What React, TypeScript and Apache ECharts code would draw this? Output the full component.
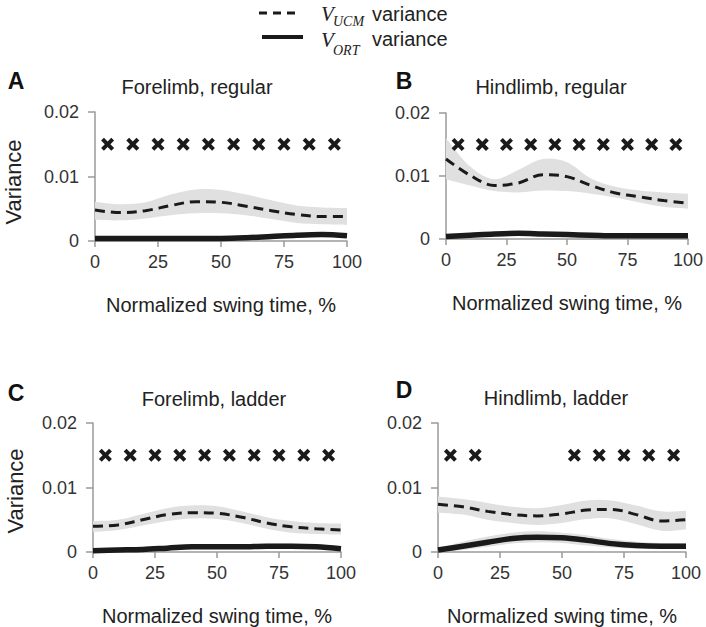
import React, { useEffect, useRef } from 'react';
import * as echarts from 'echarts';

// ---- data ----
const xs = [0, 10, 20, 30, 40, 50, 60, 70, 80, 90, 100];
const xTickInterval = 25;
const crossLevel = 0.015;

const A_ucm = [0.0048, 0.0044, 0.0047, 0.0055, 0.0061, 0.006, 0.0054, 0.0047, 0.0041, 0.0038, 0.0038];
const A_ucmHi = [0.0061, 0.0057, 0.006, 0.0072, 0.008, 0.0079, 0.0072, 0.0063, 0.0055, 0.0052, 0.0051];
const A_ucmLo = [0.0033, 0.0032, 0.0035, 0.004, 0.0043, 0.0043, 0.004, 0.0034, 0.0028, 0.0026, 0.0025];
const A_ort = [0.0004, 0.0004, 0.0004, 0.0004, 0.0004, 0.0004, 0.0005, 0.0007, 0.0009, 0.001, 0.0008];
const A_ortHi = [0.0006, 0.0006, 0.0006, 0.0006, 0.0006, 0.0006, 0.0007, 0.0009, 0.0011, 0.0012, 0.001];
const A_ortLo = [0.0002, 0.0002, 0.0002, 0.0002, 0.0002, 0.0002, 0.0003, 0.0005, 0.0007, 0.0008, 0.0006];
const A_cross = [5, 15, 25, 35, 45, 55, 65, 75, 85, 95];

const B_ucm = [0.0127, 0.0101, 0.0085, 0.0089, 0.0102, 0.0099, 0.0085, 0.0073, 0.0067, 0.0061, 0.0057];
const B_ucmHi = [0.016, 0.0115, 0.0095, 0.011, 0.0127, 0.0122, 0.0096, 0.0083, 0.0077, 0.0074, 0.0072];
const B_ucmLo = [0.0095, 0.0085, 0.0076, 0.0074, 0.0077, 0.0076, 0.0072, 0.0066, 0.0058, 0.0051, 0.0048];
const B_ort = [0.0004, 0.0006, 0.0008, 0.0009, 0.0008, 0.0007, 0.0006, 0.0005, 0.0005, 0.0005, 0.0005];
const B_ortHi = [0.0006, 0.0008, 0.001, 0.0011, 0.001, 0.0009, 0.0008, 0.0007, 0.0007, 0.0007, 0.0007];
const B_ortLo = [0.0002, 0.0004, 0.0006, 0.0007, 0.0006, 0.0005, 0.0004, 0.0003, 0.0003, 0.0003, 0.0003];
const B_cross = [5, 15, 25, 35, 45, 55, 65, 75, 85, 95];

const C_ucm = [0.004, 0.0042, 0.005, 0.0058, 0.0061, 0.006, 0.0054, 0.0045, 0.0039, 0.0036, 0.0034];
const C_ucmHi = [0.0048, 0.005, 0.0059, 0.0068, 0.0072, 0.0071, 0.0063, 0.0054, 0.0048, 0.0045, 0.0044];
const C_ucmLo = [0.0031, 0.0034, 0.0041, 0.0048, 0.0052, 0.0051, 0.0045, 0.0036, 0.003, 0.0028, 0.0027];
const C_ort = [0.0002, 0.0003, 0.0004, 0.0006, 0.0008, 0.0008, 0.0008, 0.0009, 0.0009, 0.0008, 0.0005];
const C_ortHi = [0.0004, 0.0005, 0.0007, 0.001, 0.0012, 0.0012, 0.0012, 0.0013, 0.0013, 0.0011, 0.0008];
const C_ortLo = [0.0, 0.0001, 0.0002, 0.0003, 0.0005, 0.0005, 0.0005, 0.0006, 0.0006, 0.0005, 0.0003];
const C_cross = [5, 15, 25, 35, 45, 55, 65, 75, 85, 95];

const D_ucm = [0.0074, 0.007, 0.0063, 0.0058, 0.0056, 0.0059, 0.0065, 0.0066, 0.0058, 0.0048, 0.005];
const D_ucmHi = [0.0086, 0.0082, 0.0076, 0.007, 0.0068, 0.0073, 0.008, 0.008, 0.0072, 0.0063, 0.0064];
const D_ucmLo = [0.0061, 0.0058, 0.005, 0.0045, 0.0042, 0.0045, 0.0051, 0.0052, 0.0043, 0.0033, 0.0035];
const D_ort = [0.0003, 0.0009, 0.0015, 0.0021, 0.0023, 0.0022, 0.0018, 0.0013, 0.001, 0.0009, 0.0009];
const D_ortHi = [0.0006, 0.0016, 0.0024, 0.003, 0.0032, 0.003, 0.0026, 0.002, 0.0016, 0.0014, 0.0014];
const D_ortLo = [0.0, 0.0003, 0.0008, 0.0013, 0.0015, 0.0014, 0.001, 0.0007, 0.0005, 0.0005, 0.0005];
const D_cross = [5, 15, 55, 65, 75, 85, 95];

const panelTitles = ['Forelimb, regular', 'Hindlimb, regular', 'Forelimb, ladder', 'Hindlimb, ladder'];
const panelLetters = ['A', 'B', 'C', 'D'];
const xAxisName = 'Normalized swing time, %';
const yAxisName = 'Variance';

const panels = [
  { ucm: A_ucm, ucmHi: A_ucmHi, ucmLo: A_ucmLo, ort: A_ort, ortHi: A_ortHi, ortLo: A_ortLo, cross: A_cross },
  { ucm: B_ucm, ucmHi: B_ucmHi, ucmLo: B_ucmLo, ort: B_ort, ortHi: B_ortHi, ortLo: B_ortLo, cross: B_cross },
  { ucm: C_ucm, ucmHi: C_ucmHi, ucmLo: C_ucmLo, ort: C_ort, ortHi: C_ortHi, ortLo: C_ortLo, cross: C_cross },
  { ucm: D_ucm, ucmHi: D_ucmHi, ucmLo: D_ucmLo, ort: D_ort, ortHi: D_ortHi, ortLo: D_ortLo, cross: D_cross },
];

// ---- layout ----
const grids = [
  { left: 95, top: 112, right: 359, bottom: 386 },
  { left: 446, top: 113, right: 12, bottom: 388 },
  { left: 93, top: 423, right: 365, bottom: 75 },
  { left: 438, top: 423, right: 20, bottom: 75 },
];
const titlePos = [[197, 87], [551, 87], [214, 399], [556, 398]];
const letterPos = [[16, 81], [404, 81], [16, 393], [404, 390]];
const yNamePos = [[13, 182], [15, 491]];

const SANS = 'Liberation Sans, Arial, sans-serif';
const SERIF = 'Liberation Serif, Times New Roman, serif';
const INK = '#1a1a1a';
const BAND = '#e0e0e0';
const CROSS = 'path://M0,2.6L2.6,0L6,3.4L9.4,0L12,2.6L8.6,6L12,9.4L9.4,12L6,8.6L2.6,12L0,9.4L3.4,6Z';
const SMOOTH = 0.35;

const pairs = (x: number[], y: number[]) => x.map((v, i) => [v, y[i]]);

// smooth path segment string through pixel points (excluding the initial move)
function smoothSegs(pts: number[][]): string {
  const s = SMOOTH * 0.5;
  let d = '';
  const n = pts.length;
  for (let i = 0; i < n - 1; i++) {
    const p0 = pts[Math.max(0, i - 1)];
    const p1 = pts[i];
    const p2 = pts[i + 1];
    const p3 = pts[Math.min(n - 1, i + 2)];
    const c1 = [p1[0] + (p2[0] - p0[0]) * s, p1[1] + (p2[1] - p0[1]) * s];
    const c2 = [p2[0] - (p3[0] - p1[0]) * s, p2[1] - (p3[1] - p1[1]) * s];
    d += `C${c1[0].toFixed(2)},${c1[1].toFixed(2)} ${c2[0].toFixed(2)},${c2[1].toFixed(2)} ${p2[0].toFixed(2)},${p2[1].toFixed(2)}`;
  }
  return d;
}

function bandSeries(i: number, hi: number[], lo: number[]) {
  return {
    type: 'custom',
    xAxisIndex: i,
    yAxisIndex: i,
    silent: true,
    clip: false,
    z: 1,
    data: [[xs[0], lo[0]]],
    renderItem: (_params: any, api: any) => {
      const top = xs.map((x, k) => api.coord([x, hi[k]]));
      const bottom = xs.map((x, k) => api.coord([x, lo[k]])).reverse();
      const d =
        `M${top[0][0].toFixed(2)},${top[0][1].toFixed(2)}` +
        smoothSegs(top) +
        `L${bottom[0][0].toFixed(2)},${bottom[0][1].toFixed(2)}` +
        smoothSegs(bottom) +
        'Z';
      return {
        type: 'path',
        shape: { pathData: d },
        style: { fill: BAND, stroke: 'none' },
      };
    },
  };
}

export default function App() {
  const ref = useRef<HTMLDivElement>(null);
  useEffect(() => {
    if (!ref.current) return;
    const chart = echarts.init(ref.current, undefined, { renderer: 'svg' });

    const xAxis: any[] = [];
    const yAxis: any[] = [];
    const series: any[] = [];
    panels.forEach((p, i) => {
      xAxis.push({
        type: 'value', gridIndex: i, min: 0, max: 100, interval: xTickInterval,
        axisLine: { lineStyle: { color: '#9a9a9a', width: 1.5 } },
        axisTick: { show: true, length: 6, lineStyle: { color: '#9a9a9a', width: 1.5 } },
        axisLabel: { fontFamily: SANS, fontSize: 18, color: '#333', margin: 12 },
        splitLine: { show: false },
        name: xAxisName, nameLocation: 'middle', nameGap: 54,
        nameTextStyle: { fontFamily: SANS, fontSize: 20, color: '#222' },
      });
      yAxis.push({
        type: 'value', gridIndex: i, min: 0, max: 0.02, interval: 0.01,
        axisLine: { show: true, lineStyle: { color: '#9a9a9a', width: 1.5 } },
        axisTick: { show: true, length: 7, lineStyle: { color: '#9a9a9a', width: 1.5 } },
        axisLabel: { fontFamily: SANS, fontSize: 18, color: '#333', margin: 16 },
        splitLine: { show: false },
      });
      const common = { xAxisIndex: i, yAxisIndex: i, symbol: 'none', smooth: SMOOTH, silent: true };
      series.push(bandSeries(i, p.ucmHi, p.ucmLo));
      series.push(bandSeries(i, p.ortHi, p.ortLo));
      series.push({ ...common, type: 'line', data: pairs(xs, p.ucm), lineStyle: { color: INK, width: 3, type: [10, 6] }, z: 5 });
      series.push({ ...common, type: 'line', data: pairs(xs, p.ort), lineStyle: { color: INK, width: 5.5 }, z: 5 });
      series.push({
        type: 'scatter', xAxisIndex: i, yAxisIndex: i, symbol: CROSS, symbolSize: 13, silent: true,
        itemStyle: { color: INK, opacity: 1 }, data: p.cross.map((x) => [x, crossLevel]), z: 6,
      });
    });

    const graphic: any[] = [];
    panelTitles.forEach((t, i) => {
      graphic.push({ type: 'text', x: titlePos[i][0], y: titlePos[i][1], style: { text: t, font: `20px ${SANS}`, fill: '#222', align: 'center', verticalAlign: 'middle' } });
      graphic.push({ type: 'text', x: letterPos[i][0], y: letterPos[i][1], style: { text: panelLetters[i], font: `bold 23px ${SANS}`, fill: '#111', align: 'center', verticalAlign: 'middle' } });
    });
    yNamePos.forEach((pos) => {
      graphic.push({ type: 'text', x: pos[0], y: pos[1], rotation: Math.PI / 2, style: { text: yAxisName, font: `22px ${SANS}`, fill: '#222', align: 'center', verticalAlign: 'middle' } });
    });
    // legend
    graphic.push({ type: 'line', shape: { x1: 259, y1: 13, x2: 296, y2: 13 }, style: { stroke: INK, lineWidth: 3, lineDash: [8, 6] } });
    graphic.push({ type: 'line', shape: { x1: 262, y1: 37, x2: 303, y2: 37 }, style: { stroke: INK, lineWidth: 4 } });
    graphic.push({ type: 'text', x: 321, y: 14, style: { text: 'V', font: `italic 21px ${SERIF}`, fill: '#222', verticalAlign: 'middle' } });
    graphic.push({ type: 'text', x: 333, y: 21.5, style: { text: 'UCM', font: `italic 14px ${SERIF}`, fill: '#222', verticalAlign: 'middle' } });
    graphic.push({ type: 'text', x: 372, y: 14, style: { text: 'variance', font: `20px ${SANS}`, fill: '#222', verticalAlign: 'middle' } });
    graphic.push({ type: 'text', x: 321, y: 39.5, style: { text: 'V', font: `italic 21px ${SERIF}`, fill: '#222', verticalAlign: 'middle' } });
    graphic.push({ type: 'text', x: 333, y: 50.5, style: { text: 'ORT', font: `italic 14px ${SERIF}`, fill: '#222', verticalAlign: 'middle' } });
    graphic.push({ type: 'text', x: 372, y: 39, style: { text: 'variance', font: `20px ${SANS}`, fill: '#222', verticalAlign: 'middle' } });

    chart.setOption({
      animation: false,
      backgroundColor: '#ffffff',
      grid: grids.map((g) => ({ ...g, containLabel: false })),
      xAxis,
      yAxis,
      series,
      graphic,
    });
    return () => chart.dispose();
  }, []);
  return <div ref={ref} style={{ position: 'absolute', left: 0, top: 0, width: 706, height: 627 }} />;
}
